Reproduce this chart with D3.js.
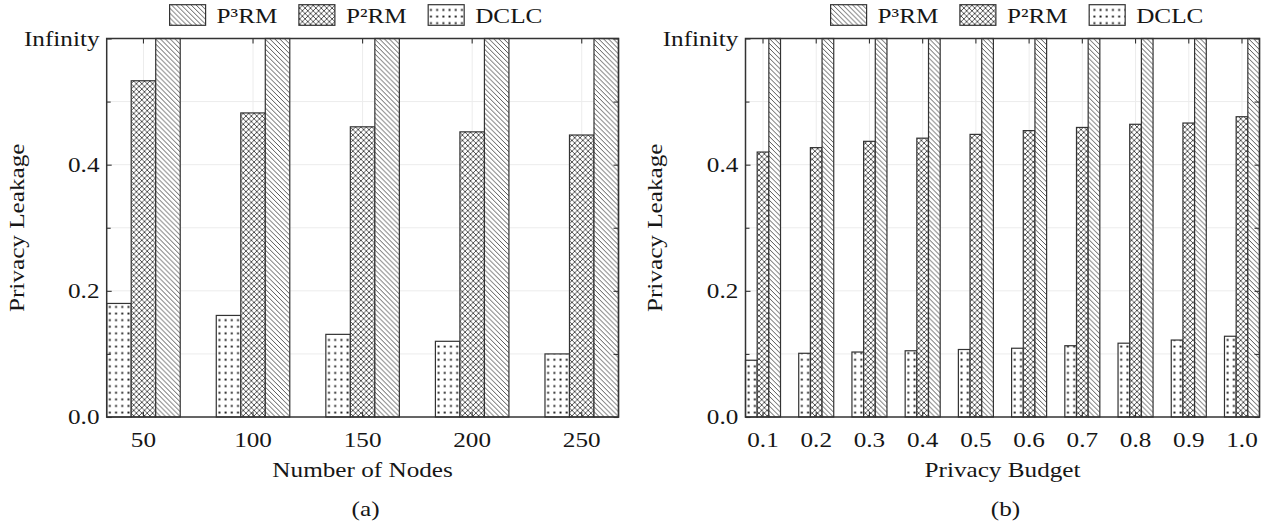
<!DOCTYPE html>
<html><head><meta charset="utf-8">
<script src="https://cdn.jsdelivr.net/npm/d3@7"></script>
<style>
html,body{margin:0;padding:0;background:#fff;}
svg{display:block;}
text{font-family:"Liberation Serif","Times New Roman",serif;font-size:21px;fill:#161616;}
</style></head><body>
<svg id="chart" width="1277" height="529"></svg>
<script>
// ---------------- data ----------------
const series = ["DCLC", "P²RM", "P³RM"];            // order within a group (left → right)
const legendOrder = ["P³RM", "P²RM", "DCLC"];

const nodesCats = ["50", "100", "150", "200", "250"];
const nodesDCLC = [0.18, 0.161, 0.131, 0.12, 0.10];
const nodesP2RM = [0.533, 0.482, 0.46, 0.452, 0.447];
const nodesP3RM = [Infinity, Infinity, Infinity, Infinity, Infinity];

const budgetCats = ["0.1", "0.2", "0.3", "0.4", "0.5", "0.6", "0.7", "0.8", "0.9", "1.0"];
const budgetDCLC = [0.09, 0.101, 0.103, 0.105, 0.107, 0.109, 0.113, 0.117, 0.122, 0.128];
const budgetP2RM = [0.42, 0.427, 0.437, 0.442, 0.448, 0.454, 0.459, 0.464, 0.466, 0.476];
const budgetP3RM = [Infinity, Infinity, Infinity, Infinity, Infinity, Infinity, Infinity, Infinity, Infinity, Infinity];

const yTickValues = [0, 0.2, 0.4, 0.6];
const yTickLabels = ["0.0", "0.2", "0.4", "Infinity"];
const yMinorValues = [0.1, 0.3, 0.5];
const yMax = 0.6;   // value where "Infinity" is drawn

// ---------------- layout ----------------
const SX = 1.2;                 // horizontal text stretch (CM-like width)
const plotTop = 38.5, plotBottom = 417;
const svg = d3.select("#chart");

// patterns
const defs = svg.append("defs");
const hatchColor = "#444";
function diagPattern(id, s, cross) {
  const p = defs.append("pattern").attr("id", id).attr("patternUnits", "userSpaceOnUse")
    .attr("width", s).attr("height", s);
  p.append("rect").attr("width", s).attr("height", s).attr("fill", "#fff");
  let d = `M0,0L${s},${s}M${-1},${s - 1}L1,${s + 1}M${s - 1},-1L${s + 1},1`;
  if (cross) d += `M0,${s}L${s},0M-1,1L1,-1M${s - 1},${s + 1}L${s + 1},${s - 1}`;
  p.append("path").attr("d", d).attr("stroke", hatchColor).attr("stroke-width", 0.9).attr("fill", "none");
}
diagPattern("pat-p3", 4.9, false);
diagPattern("pat-p2", 5.4, true);
(function () {
  const p = defs.append("pattern").attr("id", "pat-dclc").attr("patternUnits", "userSpaceOnUse")
    .attr("width", 6.2).attr("height", 6.6);
  p.append("rect").attr("width", 6.2).attr("height", 6.6).attr("fill", "#fff");
  p.append("rect").attr("x", 2.2).attr("y", 2.4).attr("width", 1.9).attr("height", 1.9).attr("fill", "#1a1a1a");
})();
const patternOf = { "DCLC": "url(#pat-dclc)", "P²RM": "url(#pat-p2)", "P³RM": "url(#pat-p3)" };

function stext(g, x, y, str, anchor, rot) {
  return g.append("text")
    .attr("transform", `translate(${x},${y})${rot ? ` rotate(${rot})` : ""} scale(${SX},1)`)
    .attr("text-anchor", anchor).text(str);
}

function drawPanel(cfg) {
  const { cats, data, x0, x1, padInner, legendCx, xLabel, caption, yLabelX } = cfg;
  const x = d3.scaleBand().domain(cats).range([x0, x1]).paddingInner(padInner).paddingOuter(0);
  const xs = d3.scaleBand().domain(series).range([0, x.bandwidth()]);
  const y = d3.scaleLinear().domain([0, yMax]).range([plotBottom, plotTop]);
  const g = svg.append("g");
  const cx = (x0 + x1) / 2;

  // grid
  const grid = g.append("g").attr("stroke", "#ececec").attr("stroke-width", 1);
  grid.selectAll("line.h").data([0.1, 0.2, 0.3, 0.4, 0.5]).join("line").attr("class", "h")
    .attr("x1", x0).attr("x2", x1).attr("y1", d => y(d)).attr("y2", d => y(d));
  grid.selectAll("line.v").data(cats).join("line").attr("class", "v")
    .attr("x1", d => x(d) + x.bandwidth() / 2).attr("x2", d => x(d) + x.bandwidth() / 2)
    .attr("y1", plotTop).attr("y2", plotBottom);

  // bars
  const vals = d => (Number.isFinite(d) ? d : yMax);
  const groups = g.append("g").selectAll("g").data(cats).join("g")
    .attr("transform", d => `translate(${x(d)},0)`);
  groups.selectAll("rect").data((c, i) => series.map(s => ({ s, v: vals(data[s][i]) }))).join("rect")
    .attr("x", d => xs(d.s)).attr("y", d => y(d.v))
    .attr("width", xs.bandwidth()).attr("height", d => plotBottom - y(d.v))
    .attr("fill", d => patternOf[d.s]).attr("stroke", "#333").attr("stroke-width", 1.2);

  // axes (ticks inward)
  const styleAxis = a => { a.select(".domain").remove(); a.selectAll("line").attr("stroke", "#333").attr("stroke-width", 1.1); };
  const bot = g.append("g").attr("transform", `translate(0,${plotBottom})`)
    .call(d3.axisBottom(x).tickSizeInner(-5).tickSizeOuter(0).tickPadding(15));
  styleAxis(bot); bot.attr("font-size", null).attr("font-family", null);
  bot.selectAll("text").attr("transform", `scale(${SX},1)`);
  const top = g.append("g").attr("transform", `translate(0,${plotTop})`)
    .call(d3.axisTop(x).tickSizeInner(-5).tickSizeOuter(0).tickFormat(""));
  styleAxis(top);
  const left = g.append("g").attr("transform", `translate(${x0},0)`)
    .call(d3.axisLeft(y).tickValues(yTickValues).tickFormat((d, i) => yTickLabels[i]).tickSizeInner(-5).tickSizeOuter(0).tickPadding(6));
  styleAxis(left); left.attr("font-size", null).attr("font-family", null);
  left.selectAll("text").attr("transform", `scale(${SX},1)`).attr("dy", "0.33em");
  const leftMinor = g.append("g").attr("transform", `translate(${x0},0)`)
    .call(d3.axisLeft(y).tickValues(yMinorValues).tickSizeInner(-4).tickSizeOuter(0).tickFormat(""));
  styleAxis(leftMinor);
  const right = g.append("g").attr("transform", `translate(${x1},0)`)
    .call(d3.axisRight(y).tickValues(yTickValues.concat(yMinorValues)).tickSizeInner(-5).tickSizeOuter(0).tickFormat(""));
  styleAxis(right);

  // frame
  g.append("rect").attr("x", x0).attr("y", plotTop).attr("width", x1 - x0).attr("height", plotBottom - plotTop)
    .attr("fill", "none").attr("stroke", "#333").attr("stroke-width", 1.5);

  // labels
  stext(g, yLabelX, (plotTop + plotBottom) / 2, "Privacy Leakage", "middle", -90);
  stext(g, cx, 477, xLabel, "middle");
  stext(g, cx + 3, 516, caption, "middle");

  // legend
  const lg = g.append("g");
  const items = legendOrder.map(s => {
    const t = lg.append("text").attr("text-anchor", "start").text(s);
    const w = t.node().getComputedTextLength() * SX;
    return { s, t, w };
  });
  const patchW = 36, gapT = 11, gapI = 21.5;
  const total = d3.sum(items, d => patchW + gapT + d.w) + gapI * (items.length - 1);
  let cur = legendCx - total / 2;
  items.forEach(it => {
    lg.append("rect").attr("x", cur).attr("y", 4.7).attr("width", patchW).attr("height", 20.6)
      .attr("fill", patternOf[it.s]).attr("stroke", "#333").attr("stroke-width", 1.2);
    it.t.attr("transform", `translate(${cur + patchW + gapT},22.7) scale(${SX},1)`);
    cur += patchW + gapT + it.w + gapI;
  });
}

drawPanel({
  cats: nodesCats,
  data: { "DCLC": nodesDCLC, "P²RM": nodesP2RM, "P³RM": nodesP3RM },
  x0: 106.7, x1: 618.5, padInner: 0.329, legendCx: 356,
  xLabel: "Number of Nodes", caption: "(a)", yLabelX: 23.5
});
drawPanel({
  cats: budgetCats,
  data: { "DCLC": budgetDCLC, "P²RM": budgetP2RM, "P³RM": budgetP3RM },
  x0: 745.5, x1: 1259.5, padInner: 0.342, legendCx: 1017,
  xLabel: "Privacy Budget", caption: "(b)", yLabelX: 662.3
});
</script>
</body></html>
